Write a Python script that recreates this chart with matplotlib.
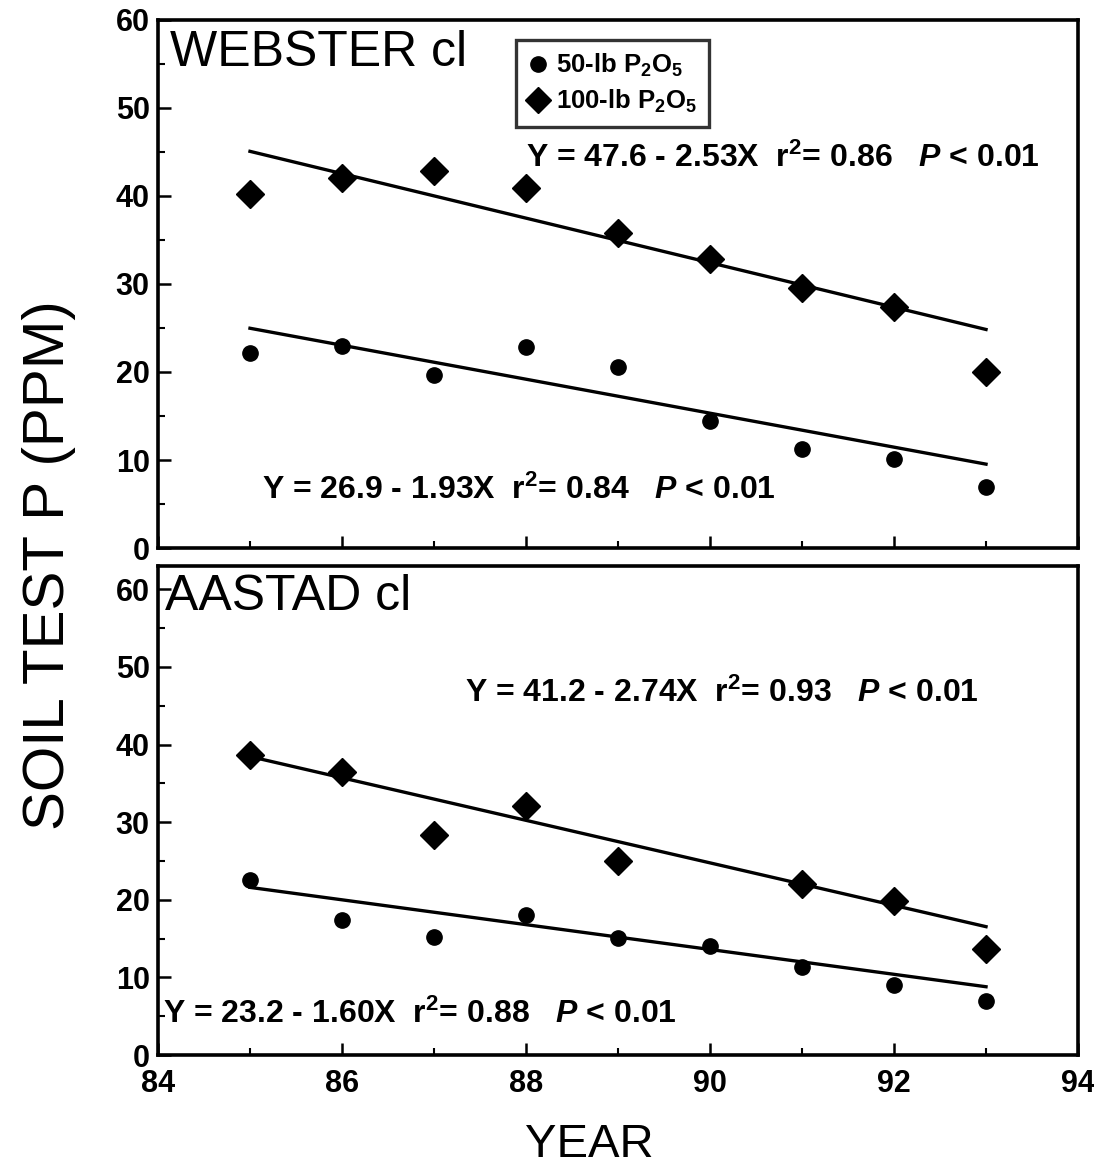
import matplotlib
matplotlib.use("Agg")
import matplotlib.pyplot as plt
import numpy as np
from matplotlib.ticker import MultipleLocator

plt.rcParams['font.family'] = ['Liberation Sans', 'DejaVu Sans']
plt.rcParams['mathtext.fontset'] = 'custom'
plt.rcParams['mathtext.rm'] = 'Liberation Sans:bold'
plt.rcParams['mathtext.bf'] = 'Liberation Sans:bold'
plt.rcParams['mathtext.it'] = 'Liberation Sans:bold:italic'

years = [85, 86, 87, 88, 89, 90, 91, 92, 93]

# WEBSTER cl
web_50 = [22.2, 23.0, 19.7, 22.8, 20.6, 14.4, 11.3, 10.1, 6.9]
web_100 = [40.2, 42.0, 42.8, 40.9, 35.8, 32.8, 29.5, 27.4, 20.0]
web_fit_50 = (26.9, -1.93)
web_fit_100 = (47.6, -2.53)

# AASTAD cl (no visible 100-lb point in 1990)
aas_50 = [22.6, 17.4, 15.2, 18.1, 15.1, 14.0, 11.3, 9.0, 7.0]
aas_100 = [38.7, 36.5, 28.3, 32.1, 25.0, np.nan, 22.0, 19.9, 13.6]
aas_fit_50 = (23.2, -1.60)
aas_fit_100 = (41.2, -2.74)

eq_web_100 = r"Y = 47.6 - 2.53X  r$^{2}$= 0.86   $P$ < 0.01"
eq_web_50 = r"Y = 26.9 - 1.93X  r$^{2}$= 0.84   $P$ < 0.01"
eq_aas_100 = r"Y = 41.2 - 2.74X  r$^{2}$= 0.93   $P$ < 0.01"
eq_aas_50 = r"Y = 23.2 - 1.60X  r$^{2}$= 0.88   $P$ < 0.01"

fig = plt.figure(figsize=(10.94, 11.72), dpi=100)
ax1 = fig.add_axes([0.1444, 0.5324, 0.841, 0.4506])
ax2 = fig.add_axes([0.1444, 0.0998, 0.841, 0.4172])

yrs = np.array(years, dtype=float)
X = yrs - 84

def style(ax, ymax):
    ax.set_xlim(84, 94)
    ax.set_ylim(0, ymax)
    for s in ax.spines.values():
        s.set_linewidth(2.6)
    ax.xaxis.set_major_locator(MultipleLocator(2))
    ax.xaxis.set_minor_locator(MultipleLocator(1))
    ax.yaxis.set_major_locator(MultipleLocator(10))
    ax.yaxis.set_minor_locator(MultipleLocator(5))
    ax.tick_params(which='major', direction='in', length=9, width=1.8,
                   labelsize=22, pad=6)
    ax.tick_params(axis='x', which='major', pad=10)
    ax.tick_params(which='minor', direction='in', length=5, width=1.5)
    ax.tick_params(top=False, right=False, which='both')

def panel(ax, d50, d100, f50, f100):
    ax.plot(yrs, d50, 'o', color='black', ms=11, zorder=3)
    ax.plot(yrs, d100, 'D', color='black', ms=14, zorder=3)
    ax.plot(yrs, f50[0] + f50[1] * X, '-', color='black', lw=2.4)
    ax.plot(yrs, f100[0] + f100[1] * X, '-', color='black', lw=2.4)

panel(ax1, web_50, web_100, web_fit_50, web_fit_100)
panel(ax2, aas_50, aas_100, aas_fit_50, aas_fit_100)
style(ax1, 60)
style(ax2, 63)
ax1.tick_params(labelbottom=False)
for lab in ax1.get_yticklabels() + ax2.get_yticklabels() + ax2.get_xticklabels():
    lab.set_fontweight('bold')

eqkw = dict(fontsize=23, fontweight='bold', va='center', ha='left')
ax1.text(88.0, 44.3, eq_web_100, **eqkw)
ax1.text(85.13, 6.6, eq_web_50, **eqkw)
ax2.text(87.34, 46.6, eq_aas_100, **eqkw)
ax2.text(84.05, 5.2, eq_aas_50, **eqkw)

ax1.text(84.13, 58.8, "WEBSTER cl", fontsize=36, va='top', ha='left')
ax2.text(84.08, 62.0, "AASTAD cl", fontsize=36, va='top', ha='left')

h1, = ax1.plot([], [], 'o', color='black', ms=11)
h2, = ax1.plot([], [], 'D', color='black', ms=13)
leg = ax1.legend([h1, h2], [r"50-lb P$_2$O$_5$", r"100-lb P$_2$O$_5$"],
                 loc='upper left', bbox_to_anchor=(0.389, 0.962),
                 borderaxespad=0.0,
                 frameon=True, fancybox=False, edgecolor='black',
                 handlelength=0.8, handletextpad=0.3, borderpad=0.45,
                 labelspacing=0.35, prop={'size': 18.5, 'weight': 'bold'})
leg.get_frame().set_linewidth(2.4)

fig.text(0.045, 0.518, "SOIL TEST P (PPM)", rotation=90, fontsize=42,
         va='center', ha='center')
fig.text(0.539, 0.004, "YEAR", fontsize=34, va='bottom', ha='center')

fig.savefig("out.png", dpi=100)
